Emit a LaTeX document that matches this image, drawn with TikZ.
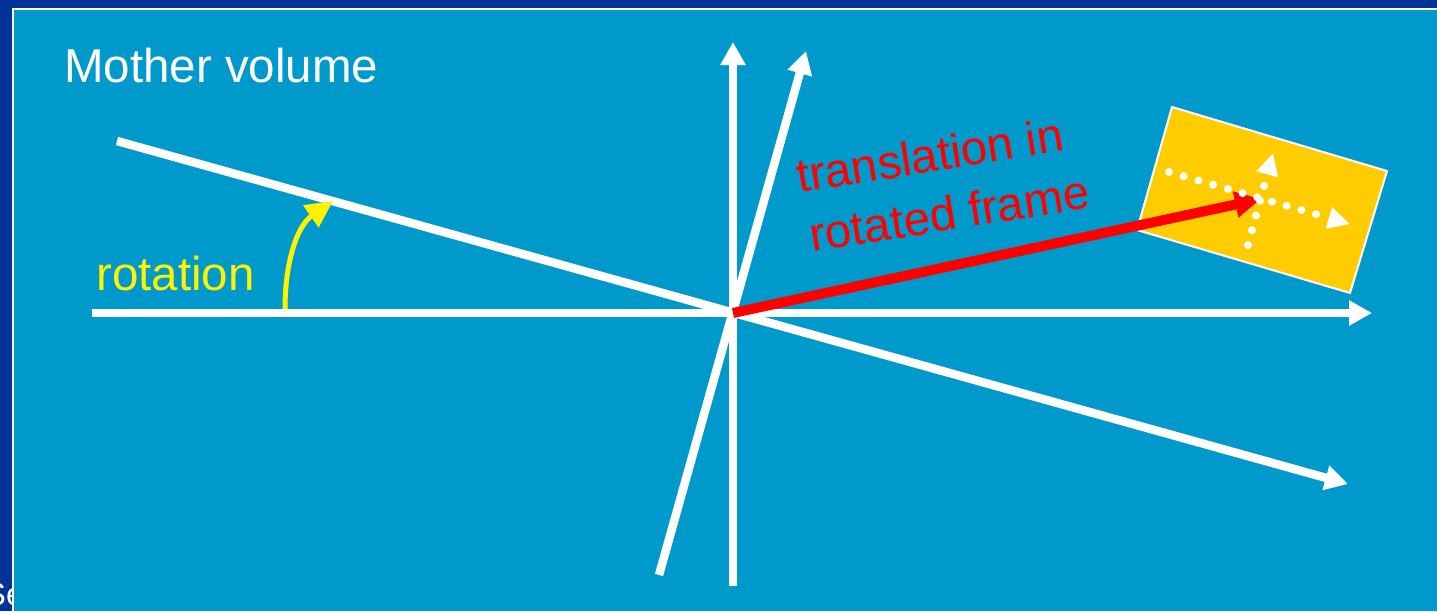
\documentclass[tikz,border=0pt]{standalone}
\usepackage{fontspec}
\setmainfont{Liberation Sans}
\usetikzlibrary{arrows.meta}
\definecolor{darkbg}{HTML}{003399}
\definecolor{lightbg}{HTML}{0099CC}
\definecolor{boxyellow}{HTML}{FFCC00}
\begin{document}
\begin{tikzpicture}[x=1pt,y=-1pt,
  axis/.style={white, line width=8.5pt, -{Triangle[length=23pt,width=24pt]}},
  redarrow/.style={red, line width=10pt, -{Triangle[length=26pt,width=25pt]}},
  rotarrow/.style={yellow, line width=5pt, -{Triangle[length=27pt,width=26pt]}},
  dotarrow/.style={white, line width=8pt, line cap=round, dash pattern=on 0pt off 15.3pt, -{Triangle[length=22pt,width=21pt]}},
  bigtext/.style={inner sep=0pt, anchor=base west, font=\fontsize{47.5}{57}\selectfont}]
\useasboundingbox (0,0) rectangle (1437,611);
\clip (0,0) rectangle (1437,611);
\fill[darkbg] (0,0) rectangle (1437,611);
\node[white, inner sep=0pt, anchor=base east, font=\fontsize{32}{38}\selectfont] (footer) at (24,605) {Se};
\fill[white] (12.3,7.7) rectangle (1437,611);
\fill[lightbg] (14,9.5) rectangle (1437,611);

% coordinates
\coordinate (O) at (733,313);
\coordinate (hL) at (92,313);
\coordinate (hR) at (1372,313);
\coordinate (vB) at (733,586);
\coordinate (vT) at (733,42);
\coordinate (rL) at (117,141);
\coordinate (rR) at (1348,484);
\coordinate (sB) at (659,575);
\coordinate (sT) at (806,51);
\coordinate (redtip) at (1261,199);
\coordinate (yS) at (285,309);
\coordinate (yE) at (333,201);
\coordinate (d1s) at (1169,172);
\coordinate (d1e) at (1350,224);
\coordinate (d2s) at (1248,245);
\coordinate (d2e) at (1273,153);

% axes
\draw[axis] (hL) -- (hR);
\draw[axis] (vB) -- (vT);
\draw[axis] (rL) -- (rR);
\draw[axis] (sB) -- (sT);

% rotation arrow
\draw[rotarrow] (yS) .. controls (285,262) and (297,226) .. (yE);

% daughter volume box
\filldraw[fill=boxyellow, draw=white, line width=2pt] (1172,107) -- (1387,171) -- (1350,293) -- (1137,230) -- cycle;

% translation
\draw[redarrow] (O) -- (redtip);

% local axes of the daughter
\draw[dotarrow] (d1s) -- (d1e);
\draw[dotarrow] (d2s) -- (d2e);

% texts
\node[bigtext, white] (mother) at (64,82) {Mother volume};
\node[bigtext, yellow] (rot) at (96,290) {rotation};
\node[bigtext, red, rotate=9] (tr1) at (799,193) {translation in};
\node[bigtext, red, rotate=9] (tr2) at (812,252) {rotated frame};
\end{tikzpicture}
\end{document}
